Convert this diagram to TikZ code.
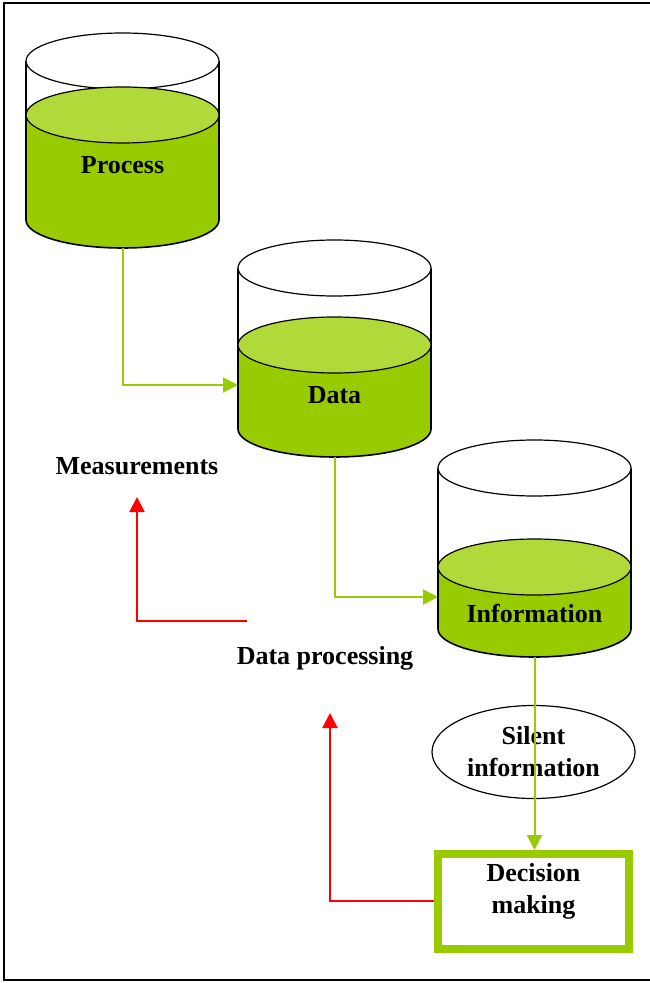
\documentclass[tikz,border=0pt]{standalone}
\usepackage{fontspec}
\setmainfont{Liberation Serif}
\usetikzlibrary{arrows.meta,shapes.geometric}

\definecolor{liquid}{RGB}{153,204,0}
\definecolor{liquidtop}{RGB}{178,217,58}
\definecolor{flowred}{RGB}{255,0,0}

\tikzset{
    lbl/.style={font=\fontsize{13}{16}\selectfont\bfseries, align=center},
    greenflow/.style={draw=liquid, line width=1pt, -{Triangle[length=7.5pt,width=7.5pt]}},
    redflow/.style={draw=flowred, line width=1pt, -{Triangle[length=7.5pt,width=7.5pt]}},
}

% tank: centre x, top y, level y, bottom y
\newcommand{\tank}[4]{%
    \fill[liquid] (#1-96.5,#3) -- (#1-96.5,#4) arc (180:0:96.5 and 28) -- (#1+96.5,#3) -- cycle;
    \draw[line width=0.8pt] (#1-96.5,#4) arc (180:0:96.5 and 28);
    \draw[line width=0.6pt] (#1-96.5,#2) -- (#1-96.5,#4) (#1+96.5,#2) -- (#1+96.5,#4);
    \draw[fill=white, line width=0.6pt] (#1,#2) ellipse (96.5 and 28);
    \draw[fill=liquidtop, line width=0.6pt] (#1,#3) ellipse (96.5 and 28);
}

\begin{document}
\begin{tikzpicture}[x=0.5pt, y=-0.5pt]
    \useasboundingbox (0,0) rectangle (649,983);
    % Frame
    \draw[line width=1.2pt] (4,3) rectangle (680,980);

    % Tanks
    \tank{122.5}{61}{115}{220}
    \tank{334.5}{268}{345}{429}
    \tank{534.5}{468}{567}{629}

    \node [lbl] (process) at (122.5,165) {Process};
    \node [lbl] (data) at (334.5,395) {Data};
    \node [lbl] (info) at (534.5,613) {Information};

    \coordinate (procbot) at (122.5,248);
    \coordinate (dataleft) at (238,385);
    \coordinate (databot) at (334.5,457);
    \coordinate (infoleft) at (438,597);
    \coordinate (infobot) at (534.5,657);

    % Silent information and decision
    \node [lbl, draw, line width=0.6pt, ellipse, minimum width=101.5pt, minimum height=46.5pt, inner sep=0pt] (silent) at (533.5,752) {Silent\\information};
    \draw [draw=liquid, line width=4pt] (438,854) rectangle (629,949);
    \coordinate (dectop) at (534.5,850);
    \coordinate (decleft) at (434,901);
    \node [lbl] (decision) at (533.5,891) {Decision\\making};

    % Green flow
    \draw [greenflow] (procbot) |- (dataleft);
    \draw [greenflow] (databot) |- (infoleft);
    \draw [greenflow] (infobot) -- (dectop);

    % Labels and red feedback
    \node [lbl] (meas) at (137,466) {Measurements};
    \node [lbl] (dproc) at (325,658) {Data processing};
    \coordinate (fb1) at (247,621);
    \coordinate (fb2) at (330,713);
    \draw [redflow] (fb1) -| (137,497);
    \draw [redflow] (decleft) -| (fb2);
\end{tikzpicture}
\end{document}
